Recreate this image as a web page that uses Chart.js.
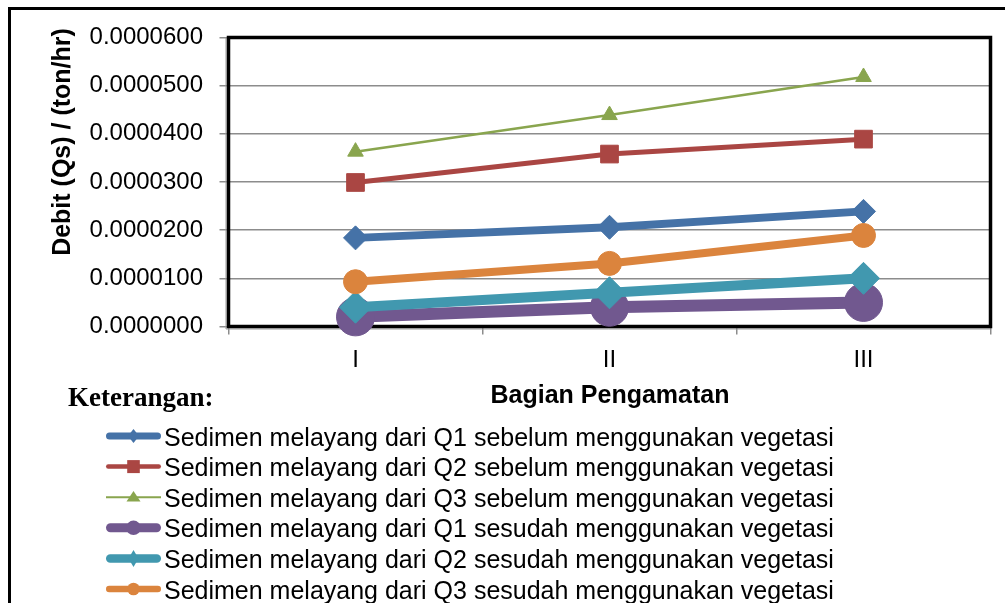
<!DOCTYPE html>
<html>
<head>
<meta charset="utf-8">
<title>Debit sedimen melayang</title>
<script src="https://cdn.jsdelivr.net/npm/chart.js@4.4.1/dist/chart.umd.min.js"></script>
<style>
  html, body { margin: 0; padding: 0; background: #fff; }
  #wrap { width: 1005px; height: 603px; position: relative; }
  canvas { display: block; }
</style>
</head>
<body>
<div id="wrap"><canvas id="chart" width="1005" height="603"></canvas></div>
<script>
// ---- data ----
const categories = ['I', 'II', 'III'];
const yTickValues = [0, 0.00001, 0.00002, 0.00003, 0.00004, 0.00005, 0.00006];

const q1Sebelum = [0.0000184, 0.0000206, 0.0000239];
const q2Sebelum = [0.0000299, 0.0000358, 0.0000389];
const q3Sebelum = [0.0000363, 0.0000439, 0.0000518];
const q1Sesudah = [0.0000020, 0.0000040, 0.0000050];
const q2Sesudah = [0.0000040, 0.0000070, 0.0000100];
const q3Sesudah = [0.0000093, 0.0000131, 0.0000189];

const seriesNames = [
  'Sedimen melayang dari Q1 sebelum menggunakan vegetasi',
  'Sedimen melayang dari Q2 sebelum menggunakan vegetasi',
  'Sedimen melayang dari Q3 sebelum menggunakan vegetasi',
  'Sedimen melayang dari Q1 sesudah menggunakan vegetasi',
  'Sedimen melayang dari Q2 sesudah menggunakan vegetasi',
  'Sedimen melayang dari Q3 sesudah menggunakan vegetasi'
];

const yTitle = 'Debit (Qs) / (ton/hr)';
const xTitle = 'Bagian Pengamatan';
const legendTitle = 'Keterangan:';

// ---- styles ----
const SANS = "'Liberation Sans', Arial, sans-serif";
const SERIF = "'Liberation Serif', 'Times New Roman', serif";

const styles = [
  { color: '#4572A7', width: 8,   point: 'rectRot',  radius: 12, legW: 7,  legMark: { rx: 5.5, ry: 7 } },
  { color: '#AA4643', width: 5,   point: 'rect',     radius: 12.5, legW: 4.5, legMark: { rx: 6.3, ry: 6.5 } },
  { color: '#89A54E', width: 2.5, point: 'triangle', radius: 9,  legW: 2,  legMark: { rx: 7, ry: 7 } },
  { color: '#71588F', width: 12,  point: 'circle',   radius: 19, legW: 9,  legMark: { rx: 7.3, ry: 7.3 } },
  { color: '#4198AF', width: 10,  point: 'rectRot',  radius: 16, legW: 8.5, legMark: { rx: 5, ry: 8.5 } },
  { color: '#DB843D', width: 8,   point: 'circle',   radius: 12, legW: 6.5, legMark: { rx: 6.3, ry: 6.3 } }
];

const seriesValues = [q1Sebelum, q2Sebelum, q3Sebelum, q1Sesudah, q2Sesudah, q3Sesudah];

const datasets = seriesValues.map((vals, i) => ({
  label: seriesNames[i],
  data: vals,
  borderColor: styles[i].color,
  backgroundColor: styles[i].color,
  borderWidth: styles[i].width,
  pointStyle: styles[i].point,
  pointRadius: styles[i].radius,
  pointBorderWidth: 1,
  pointBackgroundColor: styles[i].color,
  pointBorderColor: styles[i].color,
  tension: 0,
  clip: false,
  order: seriesValues.length - i
}));

// plot area box
const AREA = { left: 228.5, top: 37.5, right: 990.5, bottom: 326.5 };

function drawMarker(ctx, style, x, y, rx, ry) {
  ctx.beginPath();
  if (style === 'circle') {
    ctx.ellipse(x, y, rx, ry, 0, 0, Math.PI * 2);
  } else if (style === 'rect') {
    ctx.rect(x - rx, y - ry, rx * 2, ry * 2);
  } else if (style === 'rectRot') {
    ctx.moveTo(x, y - ry);
    ctx.lineTo(x + rx, y);
    ctx.lineTo(x, y + ry);
    ctx.lineTo(x - rx, y);
    ctx.closePath();
  } else if (style === 'triangle') {
    ctx.moveTo(x, y - ry * 0.9);
    ctx.lineTo(x + rx, y + ry * 0.6);
    ctx.lineTo(x - rx, y + ry * 0.6);
    ctx.closePath();
  }
  ctx.fill();
}

const decor = {
  id: 'decor',
  beforeDraw(chart) {
    const ctx = chart.ctx;
    ctx.save();
    ctx.fillStyle = '#fff';
    ctx.fillRect(0, 0, chart.width, chart.height);
    // outer frame (top and left edges)
    ctx.strokeStyle = '#000';
    ctx.lineWidth = 3;
    ctx.beginPath();
    ctx.moveTo(9.5, chart.height);
    ctx.lineTo(9.5, 8.5);
    ctx.lineTo(chart.width, 8.5);
    ctx.stroke();
    ctx.restore();
  },
  beforeDatasetsDraw(chart) {
    const { ctx, chartArea: a } = chart;
    ctx.save();
    ctx.strokeStyle = '#9a9a9a';
    ctx.lineWidth = 1;
    ctx.beginPath();
    ctx.moveTo(a.left - 2.5, a.bottom + 2.5);
    ctx.lineTo(a.left - 2.5, a.top);
    ctx.moveTo(a.left - 2.5, a.bottom + 2.5);
    ctx.lineTo(a.right, a.bottom + 2.5);
    ctx.stroke();
    ctx.strokeStyle = '#000';
    ctx.lineWidth = 3.5;
    ctx.strokeRect(a.left, a.top, a.right - a.left, a.bottom - a.top);
    ctx.restore();
  },
  afterDraw(chart) {
    const ctx = chart.ctx;
    ctx.save();
    ctx.fillStyle = '#000';

    // y axis title
    ctx.font = 'bold 25px ' + SANS;
    ctx.textAlign = 'center';
    ctx.textBaseline = 'alphabetic';
    ctx.translate(70, 142);
    ctx.rotate(-Math.PI / 2);
    ctx.fillText(yTitle, 0, 0);
    ctx.setTransform(1, 0, 0, 1, 0, 0);

    // x axis title
    ctx.font = 'bold 25px ' + SANS;
    ctx.textAlign = 'center';
    ctx.fillText(xTitle, 610, 402.5);

    // legend heading
    ctx.font = 'bold 27px ' + SERIF;
    ctx.textAlign = 'left';
    ctx.fillText(legendTitle, 68, 406);

    // legend entries
    ctx.font = '25px ' + SANS;
    chart.data.datasets.forEach((ds, i) => {
      const st = styles[i];
      const cy = 436 + 30.6 * i;
      ctx.strokeStyle = ds.borderColor;
      ctx.lineWidth = st.legW;
      ctx.lineCap = st.legW > 4 ? 'round' : 'butt';
      ctx.beginPath();
      const pad = st.legW > 4 ? st.legW / 2 : 0;
      ctx.moveTo(106 + pad, cy);
      ctx.lineTo(161 - pad, cy);
      ctx.stroke();
      ctx.fillStyle = ds.borderColor;
      drawMarker(ctx, st.point, 133.5, cy, st.legMark.rx, st.legMark.ry);
      ctx.fillStyle = '#000';
      ctx.fillText(ds.label, 164, cy + 9.5);
    });
    ctx.restore();
  }
};

new Chart(document.getElementById('chart'), {
  type: 'line',
  data: { labels: categories, datasets },
  options: {
    responsive: false,
    animation: false,
    devicePixelRatio: 1,
    layout: {
      autoPadding: false,
      padding: { left: 0, top: AREA.top, right: 1005 - AREA.right, bottom: 0 }
    },
    plugins: {
      legend: { display: false },
      tooltip: { enabled: false },
      title: { display: false }
    },
    scales: {
      x: {
        type: 'category',
        offset: true,
        grid: {
          offset: true,
          drawOnChartArea: false,
          drawTicks: true,
          tickLength: 8,
          color: '#8c8c8c',
          lineWidth: 1.5
        },
        border: { display: false },
        ticks: {
          color: '#000',
          padding: 11,
          font: { family: SANS, size: 24 },
          maxRotation: 0
        },
        afterFit(scale) { scale.height = 603 - AREA.bottom; }
      },
      y: {
        min: 0,
        max: 0.00006,
        afterBuildTicks(scale) { scale.ticks = yTickValues.map(v => ({ value: v })); },
        grid: {
          color: '#8c8c8c',
          lineWidth: 1.5,
          drawTicks: true,
          tickLength: 9
        },
        border: { display: false },
        ticks: {
          color: '#000',
          padding: 16.5,
          font: { family: SANS, size: 24 },
          callback: v => Number(v).toFixed(7)
        },
        afterFit(scale) { scale.width = AREA.left; }
      }
    }
  },
  plugins: [decor]
});
</script>
</body>
</html>
